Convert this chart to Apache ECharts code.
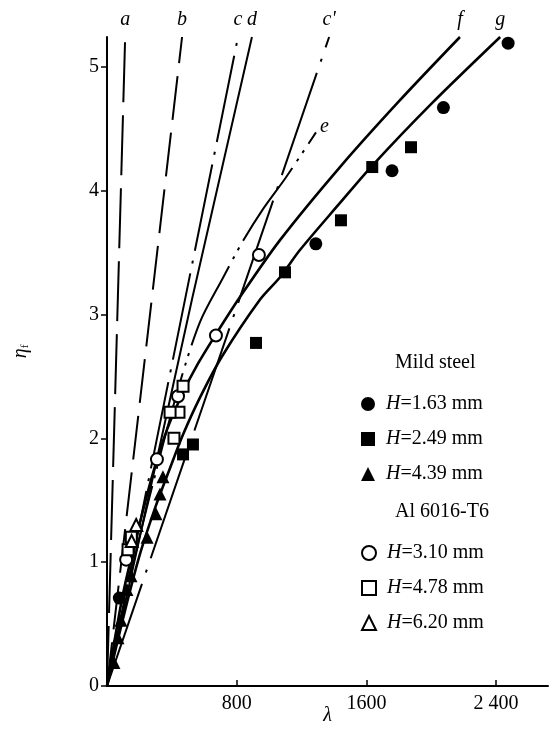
<!DOCTYPE html>
<html>
<head>
<meta charset="utf-8">
<script src="https://cdn.jsdelivr.net/npm/echarts@6/dist/echarts.min.js"></script>
<style>
  html, body { margin: 0; padding: 0; background: #fff; }
  #chart { width: 552px; height: 745px; }
</style>
</head>
<body>
<div id="chart"></div>
<script>
// axis ranges and ticks
const lambdaMax = 2720;
const etaMax = 5.24;
const lambdaTicks = [800, 1600, 2400];
const etaTicks = [0, 1, 2, 3, 4, 5];

// model curves, [lambda, eta]
const curveA = [[0, 0], [112, 5.24]];
const curveB = [[0, 0], [463, 5.24]];
const curveC = [[0, 0], [808, 5.24]];
const curveD = [[0, 0], [524, 3.12], [894, 5.24]];
const curveC2 = [[0, 0], [1370, 5.24]];
const curveE = [[0, 0], [150, 0.92], [300, 1.72], [450, 2.45], [574, 2.94], [709, 3.28],
  [833, 3.58], [962, 3.85], [1100, 4.1], [1289, 4.47]];
const curveF = [[0, 0], [100, 0.75], [200, 1.3], [284, 1.72], [370, 2.07], [469, 2.37],
  [560, 2.6], [672, 2.84], [820, 3.14], [1067, 3.6], [1437, 4.19], [1800, 4.72], [2177, 5.24]];
const curveG = [[0, 0], [100, 0.55], [200, 1.05], [300, 1.45], [389, 1.76], [469, 2.03],
  [574, 2.33], [709, 2.66], [944, 3.12], [1067, 3.3], [1190, 3.52], [1437, 3.9],
  [1635, 4.2], [2000, 4.7], [2425, 5.24]];

// test points, [lambda, eta]
const steel163 = [[2474, 5.19], [2075, 4.67], [1758, 4.16], [1288, 3.57], [76, 0.71]];
const steel249 = [[1875, 4.35], [1636, 4.19], [1443, 3.76], [1098, 3.34], [919, 2.77],
  [530, 1.95], [469, 1.87]];
const steel439 = [[345, 1.69], [327, 1.55], [302, 1.39], [247, 1.2], [148, 0.89],
  [123, 0.78], [86, 0.53], [68, 0.39], [43, 0.19]];
const al310 = [[937, 3.48], [672, 2.83], [438, 2.34], [308, 1.83], [118, 1.02]];
const al478 = [[469, 2.42], [444, 2.21], [389, 2.21], [413, 2.0], [150, 1.2], [130, 1.1]];
const al620 = [[180, 1.3], [152, 1.17]];

const serif = "'Liberation Serif', 'DejaVu Serif', serif";

function modelLine(name, pts, dash, width, smooth, labelPos) {
  const last = pts[pts.length - 1];
  return {
    name,
    type: "line",
    data: pts,
    symbol: "none",
    smooth: smooth ? 0.3 : false,
    silent: true,
    z: 2,
    lineStyle: { color: "#000", width, type: dash, opacity: 1 },
    markPoint: {
      symbol: "circle",
      symbolSize: 0,
      silent: true,
      data: [{ coord: last, value: name }],
      label: {
        show: true,
        position: labelPos || "top",
        distance: labelPos === "right" ? 4 : 7,
        offset: labelPos === "right" ? [0, -6] : [0, 0],
        formatter: name,
        color: "#000",
        fontFamily: serif,
        fontStyle: "italic",
        fontSize: 20,
      },
    },
  };
}

function testPoints(name, pts, symbol, filled, size) {
  return {
    name,
    type: "scatter",
    data: pts,
    symbol,
    symbolSize: size,
    z: 5,
    itemStyle: filled
      ? { color: "#000", opacity: 1 }
      : { color: "#fff", borderColor: "#000", borderWidth: 2, opacity: 1 },
  };
}

const legendText = {
  color: "#000",
  fontFamily: serif,
  fontSize: 20,
  padding: [0, 0, 0, 6],
  rich: { i: { fontStyle: "italic", fontFamily: serif, fontSize: 20, color: "#000" } },
};

const chart = echarts.init(document.getElementById("chart"));
chart.setOption({
  backgroundColor: "#fff",
  animation: false,
  grid: { left: 107, right: 4, top: 37, bottom: 59 },
  xAxis: {
    type: "value",
    min: 0,
    max: lambdaMax,
    name: "λ",
    nameLocation: "middle",
    nameGap: 20,
    nameMoveOverlap: false,
    nameTextStyle: { fontFamily: serif, fontStyle: "italic", fontSize: 20, color: "#000" },
    axisLine: { lineStyle: { color: "#000", width: 2 } },
    axisTick: { inside: true, length: 6, customValues: lambdaTicks, lineStyle: { color: "#000", width: 1.5 } },
    axisLabel: {
      customValues: lambdaTicks,
      formatter: (v) => (v === 2400 ? "2 400" : String(v)),
      color: "#000",
      fontFamily: serif,
      fontSize: 20,
      margin: 8,
    },
    splitLine: { show: false },
  },
  yAxis: {
    type: "value",
    min: 0,
    max: etaMax,
    name: "{a|η}{b|f}",
    nameLocation: "middle",
    nameGap: 76,
    nameTextStyle: {
      padding: [0, 0, 0, 20],
      rich: {
        a: { fontFamily: serif, fontStyle: "italic", fontSize: 20, color: "#000" },
        b: { fontFamily: serif, fontSize: 11, color: "#000", padding: [10, 0, 0, 0] },
      },
    },
    axisLine: { lineStyle: { color: "#000", width: 2 } },
    axisTick: { inside: false, length: 6, customValues: etaTicks, lineStyle: { color: "#000", width: 1.5 } },
    axisLabel: {
      customValues: etaTicks,
      color: "#000",
      fontFamily: serif,
      fontSize: 20,
      margin: 8,
    },
    splitLine: { show: false },
  },
  legend: [
    {
      orient: "vertical",
      left: 356,
      top: 389,
      itemGap: 15,
      itemWidth: 14,
      itemHeight: 14,
      data: ["H=1.63 mm", "H=2.49 mm", "H=4.39 mm"],
      formatter: (n) => n.replace("H", "{i|H}"),
      textStyle: legendText,
    },
    {
      orient: "vertical",
      left: 356,
      top: 538,
      itemGap: 15,
      itemWidth: 14,
      itemHeight: 14,
      data: ["H=3.10 mm", "H=4.78 mm", "H=6.20 mm"],
      formatter: (n) => n.replace("H", "{i|H}"),
      textStyle: legendText,
    },
  ],
  graphic: [
    { type: "text", left: 395, top: 353, style: { text: "Mild steel", fill: "#000", font: "20px " + serif } },
    { type: "text", left: 395, top: 502, style: { text: "Al 6016-T6", fill: "#000", font: "20px " + serif } },
  ],
  series: [
    modelLine("a", curveA, [60, 13], 2, false),
    modelLine("b", curveB, [44, 13], 2, false),
    modelLine("c", curveC, [88, 10, 3, 10], 2, false),
    modelLine("d", curveD, "solid", 2, false),
    modelLine("c'", curveC2, [108, 12, 3, 12], 2, false),
    modelLine("e", curveE, [88, 8, 3, 7, 3, 8], 2, true, "right"),
    modelLine("f", curveF, "solid", 2.6, true),
    modelLine("g", curveG, "solid", 2.6, true),
    testPoints("H=1.63 mm", steel163, "circle", true, 13),
    testPoints("H=2.49 mm", steel249, "rect", true, 12),
    testPoints("H=4.39 mm", steel439, "triangle", true, 13),
    testPoints("H=3.10 mm", al310, "circle", false, 12),
    testPoints("H=4.78 mm", al478, "rect", false, 11),
    testPoints("H=6.20 mm", al620, "triangle", false, 12),
  ],
});
</script>
</body>
</html>
